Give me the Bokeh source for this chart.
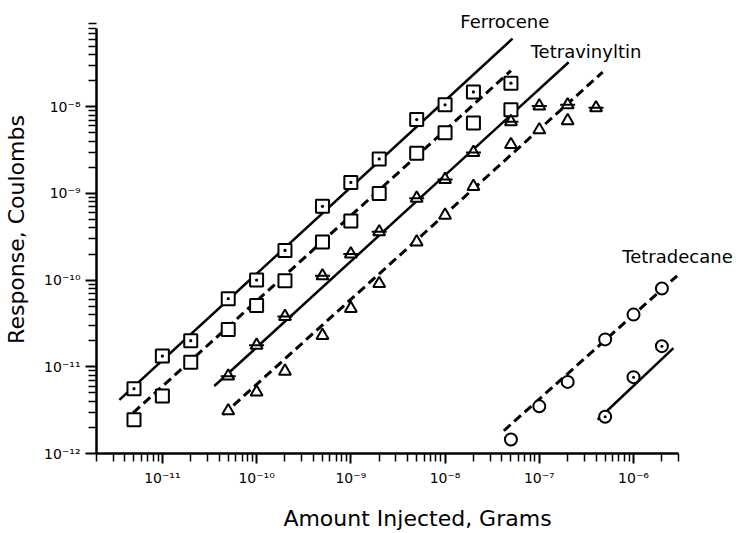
from bokeh.plotting import figure
from bokeh.models import (FixedTicker, CustomJSTickFormatter, Label, Range1d)
from bokeh.embed import file_html
from bokeh.resources import INLINE

# ---------------- data ----------------
# Ferrocene (solid line, dotted squares)
ferro_a_x = [5e-12, 1e-11, 2e-11, 5e-11, 1e-10, 2e-10, 5e-10, 1e-9, 2e-9, 5e-9, 1e-8, 2e-8, 5e-8]
ferro_a_y = [5.6e-12, 1.33e-11, 2.0e-11, 6.1e-11, 1.0e-10, 2.2e-10, 7.1e-10, 1.34e-9, 2.5e-9, 7.1e-9, 1.05e-8, 1.48e-8, 1.87e-8]
# Ferrocene (dashed line, open squares)
ferro_b_x = [5e-12, 1e-11, 2e-11, 5e-11, 1e-10, 2e-10, 5e-10, 1e-9, 2e-9, 5e-9, 1e-8, 2e-8, 5e-8]
ferro_b_y = [2.45e-12, 4.6e-12, 1.13e-11, 2.7e-11, 5.1e-11, 9.8e-11, 2.75e-10, 4.8e-10, 1.0e-9, 2.9e-9, 5.0e-9, 6.5e-9, 9.2e-9]
# Tetravinyltin (solid line, barred triangles)
tvt_a_x = [5e-11, 1e-10, 2e-10, 5e-10, 1e-9, 2e-9, 5e-9, 1e-8, 2e-8, 5e-8, 1e-7, 2e-7, 4e-7]
tvt_a_y = [7.8e-12, 1.77e-11, 3.8e-11, 1.12e-10, 2.0e-10, 3.6e-10, 8.8e-10, 1.45e-9, 2.96e-9, 6.7e-9, 1.02e-8, 1.05e-8, 9.7e-9]
# Tetravinyltin (dashed line, open triangles)
tvt_b_x = [5e-11, 1e-10, 2e-10, 5e-10, 1e-9, 2e-9, 5e-9, 1e-8, 2e-8, 5e-8, 1e-7, 2e-7]
tvt_b_y = [3.1e-12, 5.1e-12, 8.9e-12, 2.3e-11, 4.7e-11, 9.1e-11, 2.75e-10, 5.6e-10, 1.2e-9, 3.65e-9, 5.4e-9, 6.9e-9]
# Tetradecane (dashed line, open circles)
td_b_x = [5e-8, 1e-7, 2e-7, 5e-7, 1e-6, 2e-6]
td_b_y = [1.45e-12, 3.5e-12, 6.7e-12, 2.07e-11, 4.0e-11, 8.0e-11]
# Tetradecane (solid line, dotted circles)
td_a_x = [5e-7, 1e-6, 2e-6]
td_a_y = [2.65e-12, 7.6e-12, 1.73e-11]

# hand-drawn straight lines (end points)
ferro_a_fit_x = [3.5e-12, 5.2e-8]
ferro_a_fit_y = [4.16e-12, 6.1e-8]
ferro_b_fit_x = [4.9e-12, 5.0e-8]
ferro_b_fit_y = [2.95e-12, 2.6e-8]
tvt_a_fit_x = [3.56e-11, 2.05e-7]
tvt_a_fit_y = [6.0e-12, 3.26e-8]
tvt_b_fit_x = [4.4e-11, 4.7e-7]
tvt_b_fit_y = [2.8e-12, 2.5e-8]
td_b_fit_x = [4.2e-8, 2.9e-6]
td_b_fit_y = [1.83e-12, 1.12e-10]
td_a_fit_x = [4.16e-7, 2.65e-6]
td_a_fit_y = [2.45e-12, 1.64e-11]

# axes
x_axis_bounds = (2e-12, 3e-6)
y_axis_bounds = (1e-12, 8e-8)
x_tick_values = [1e-11, 1e-10, 1e-9, 1e-8, 1e-7, 1e-6]
x_tick_labels = ["10⁻¹¹", "10⁻¹⁰", "10⁻⁹", "10⁻⁸", "10⁻⁷", "10⁻⁶"]
y_tick_values = [1e-12, 1e-11, 1e-10, 1e-9, 1e-8]
y_tick_labels = ["10⁻¹²", "10⁻¹¹", "10⁻¹⁰", "10⁻⁹", "10⁻⁸"]
minor_values = [m * 10.0 ** k for k in range(-13, -4) for m in range(2, 10)]
minor_values = [v for v in minor_values if 1e-12 <= v <= 3.01e-6]

series_names = ["Ferrocene", "Tetravinyltin", "Tetradecane"]

# ---------------- figure ----------------
FONT = "DejaVu Sans"
p = figure(width=738, height=533, x_axis_type="log", y_axis_type="log",
           x_range=Range1d(2e-12, 1.3e-5), y_range=Range1d(1e-12, 1.47e-7),
           output_backend="svg", toolbar_location=None,
           min_border_left=96, min_border_right=0, min_border_top=5, min_border_bottom=77)
p.outline_line_color = None
p.xgrid.visible = False
p.ygrid.visible = False
p.background_fill_color = "white"
p.border_fill_color = "white"

fmt_code = """
let best = 0, bd = 1e9;
for (let i = 0; i < tv.length; i++) {
  const d = Math.abs(Math.log10(tv[i]) - Math.log10(tick));
  if (d < bd) { bd = d; best = i; }
}
return tl[best];
"""
p.xaxis.ticker = FixedTicker(ticks=x_tick_values, minor_ticks=minor_values)
p.yaxis.ticker = FixedTicker(ticks=y_tick_values, minor_ticks=minor_values)
p.xaxis.formatter = CustomJSTickFormatter(args=dict(tv=x_tick_values, tl=x_tick_labels), code=fmt_code)
p.yaxis.formatter = CustomJSTickFormatter(args=dict(tv=y_tick_values, tl=y_tick_labels), code=fmt_code)
p.xaxis.bounds = x_axis_bounds
p.yaxis.bounds = y_axis_bounds

for ax in (p.xaxis, p.yaxis):
    ax.axis_line_width = 2.5
    ax.axis_line_color = "black"
    ax.major_tick_line_width = 2
    ax.minor_tick_line_width = 1.5
    ax.major_tick_line_color = "black"
    ax.minor_tick_line_color = "black"
    ax.major_tick_in = 0
    ax.minor_tick_in = 0
    ax.major_label_text_font = FONT
    ax.major_label_text_font_size = "14px"
    ax.major_label_text_color = "black"
    ax.axis_label_text_font = FONT
    ax.axis_label_text_font_size = "22px"
    ax.axis_label_text_font_style = "normal"
    ax.axis_label_text_color = "black"

p.xaxis.major_tick_out = 10
p.xaxis.minor_tick_out = 8
p.yaxis.major_tick_out = 11
p.yaxis.minor_tick_out = 8
p.xaxis.major_label_standoff = 6
p.yaxis.major_label_standoff = 5
p.xaxis.axis_label = "Amount Injected, Grams"
p.yaxis.axis_label = "Response, Coulombs"
p.xaxis.axis_label_standoff = 17
p.yaxis.axis_label_standoff = 12

LW = 2.5
DASH = "9 5"
p.line(ferro_a_fit_x, ferro_a_fit_y, line_color="black", line_width=LW)
p.line(ferro_b_fit_x, ferro_b_fit_y, line_color="black", line_width=LW + 0.5, line_dash=DASH)
p.line(tvt_a_fit_x, tvt_a_fit_y, line_color="black", line_width=LW)
p.line(tvt_b_fit_x, tvt_b_fit_y, line_color="black", line_width=LW + 0.5, line_dash=DASH)
p.line(td_b_fit_x, td_b_fit_y, line_color="black", line_width=LW + 0.5, line_dash=DASH)
p.line(td_a_fit_x, td_a_fit_y, line_color="black", line_width=LW)

MK = dict(line_color="black", fill_color="white", line_width=2)
p.scatter(ferro_a_x, ferro_a_y, marker="square_dot", size=13, **MK)
p.scatter(ferro_b_x, ferro_b_y, marker="square", size=13, **MK)
p.scatter(tvt_a_x, tvt_a_y, marker="triangle", size=12, **MK)
p.scatter(tvt_a_x, tvt_a_y, marker="dash", size=15, line_color="black", line_width=2)
p.scatter(tvt_b_x, tvt_b_y, marker="triangle", size=12, **MK)
p.scatter(td_b_x, td_b_y, marker="circle", size=12, **MK)
p.scatter(td_a_x, td_a_y, marker="circle_dot", size=12, **MK)

label_style = dict(text_font=FONT, text_font_size="18px", text_color="black",
                   text_baseline="middle", text_align="left")
p.add_layout(Label(x=1.45e-8, y=9.6e-8, text=series_names[0], **label_style))
p.add_layout(Label(x=8.1e-8, y=4.3e-8, text=series_names[1], **label_style))
p.add_layout(Label(x=7.6e-7, y=1.85e-10, text=series_names[2], **label_style))

open("out.html", "w").write(file_html(p, INLINE))
